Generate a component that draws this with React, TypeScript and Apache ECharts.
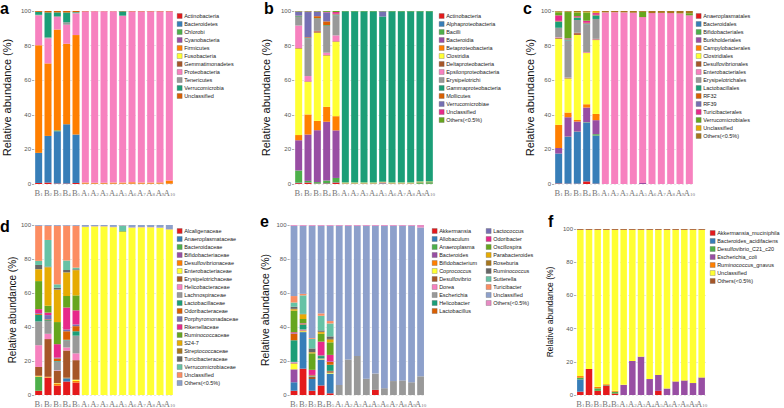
import React, { useEffect, useRef } from 'react';
import * as echarts from 'echarts';

const CATEGORIES = ['B1', 'B2', 'B3', 'B4', 'B5', 'A1', 'A2', 'A3', 'A4', 'A5', 'A6', 'A7', 'A8', 'A9', 'A10'];
const Y_NAME = 'Relative abundance (%)';
const PANEL_LETTERS = ['a', 'b', 'c', 'd', 'e', 'f'];

const PALETTE = ['#E41A1C', '#377EB8', '#4DAF4A', '#984EA3', '#FF7F00', '#FFFF33', '#A65628', '#F781BF', '#999999', '#1B9E77', '#D95F02', '#7570B3', '#E7298A', '#66A61E', '#E6AB02', '#A6761D', '#666666', '#66C2A5', '#FC8D62', '#8DA0CB', '#E78AC3'];

// Panel a: phylum
const PHYLUM_TAXA = ['Actinobacteria', 'Bacteroidetes', 'Chlorobi', 'Cyanobacteria', 'Firmicutes', 'Fusobacteria', 'Gemmatimonadetes', 'Proteobacteria', 'Tenericutes', 'Verrucomicrobia', 'Unclassified'];
const PHYLUM_VALUES = [
  [0.6, 0.8, 0.3, 0.3, 0.6, 0.1, 0.1, 0.1, 0.1, 0.1, 0.1, 0.1, 0.1, 0.1, 0.1],
  [17.4, 27.0, 30.2, 34.2, 28.0, 0.1, 0.1, 0.1, 0.1, 0.1, 0.1, 0.1, 0.1, 0.1, 0.1],
  [0, 0, 0.5, 0, 0, 0, 0, 0, 0, 0, 0, 0, 0, 0, 0],
  [0, 0, 0, 0, 0, 0, 0, 0, 0, 0, 0, 0, 0, 0, 0],
  [62.2, 41.9, 58.3, 46.5, 57.5, 0.6, 0.5, 0.5, 0.6, 0.6, 0.8, 0.6, 0.6, 0.7, 1.8],
  [0, 0, 0, 0, 0, 0, 0, 0, 0, 0, 0, 0, 0, 0, 0],
  [0, 0, 0, 0, 0, 0, 0, 0, 0, 0, 0, 0, 0, 0, 0],
  [17.3, 14.5, 7.2, 11.0, 12.5, 99.0, 99.2, 99.2, 99.1, 96.5, 98.8, 99.0, 99.0, 98.9, 97.8],
  [0.3, 0.5, 0.5, 1.5, 0.5, 0, 0, 0, 0, 0, 0, 0, 0, 0, 0],
  [1.7, 14.5, 2.2, 5.6, 0.3, 0, 0, 0, 0, 2.5, 0, 0, 0, 0, 0],
  [0.5, 0.8, 0.8, 0.9, 0.6, 0.2, 0.2, 0.2, 0.2, 0.2, 0.2, 0.2, 0.2, 0.2, 0.2],
];

// Panel b: class
const CLASS_TAXA = ['Actinobacteria', 'Alphaproteobacteria', 'Bacilli', 'Bacteroidia', 'Betaproteobacteria', 'Clostridia', 'Deltaproteobacteria', 'Epsilonproteobacteria', 'Erysipelotrichi', 'Gammaproteobacteria', 'Mollicutes', 'Verrucomicrobiae', 'Unclassified', 'Others(<0.5%)'];
const CLASS_VALUES = [
  [0.5, 0.8, 0.2, 0.3, 0.8, 0.1, 0.1, 0.1, 0.1, 0.1, 0.1, 0.1, 0.1, 0.1, 0.1],
  [0.3, 0.2, 0.1, 0.2, 0.2, 0, 0, 0, 0, 0, 0, 0, 0, 0, 0],
  [7.0, 0.8, 0.8, 1.5, 2.5, 0.2, 0.2, 0.2, 0.2, 0.2, 0.2, 0.2, 0.2, 0.8, 0.9],
  [17.5, 26.8, 30.0, 34.0, 27.5, 0.1, 0.1, 0.1, 0.1, 0.6, 0.1, 0.1, 0.1, 0.1, 0.1],
  [3.0, 11.6, 5.4, 8.6, 8.2, 0.1, 0.1, 0.1, 0.1, 0.1, 0.1, 0.1, 0.1, 0.1, 0.1],
  [50.0, 18.8, 51.0, 29.7, 43.0, 0.3, 0.3, 0.3, 0.3, 0.3, 0.3, 0.3, 0.3, 0.3, 0.3],
  [0.3, 0.3, 0.8, 0.3, 0.3, 0, 0, 0, 0, 0, 0, 0, 0, 0, 0],
  [13.0, 3.1, 0.2, 1.3, 3.4, 0, 0, 0, 0, 0, 0, 0, 0, 0, 0],
  [5.0, 21.8, 7.0, 15.5, 11.6, 0, 0, 0, 0, 0, 0, 0, 0, 0, 0],
  [0.4, 0.2, 0.3, 0.4, 0.3, 99.0, 99.0, 99.0, 99.0, 95.5, 99.0, 99.0, 99.0, 98.4, 98.3],
  [0.3, 0.4, 1.2, 2.2, 0.3, 0, 0, 0, 0, 0, 0, 0, 0, 0, 0],
  [2.2, 14.6, 2.5, 5.2, 0.3, 0, 0, 0, 0, 3.0, 0, 0, 0, 0, 0],
  [0.2, 0.3, 0.2, 0.3, 1.0, 0, 0, 0, 0, 0, 0, 0, 0, 0, 0],
  [0.3, 0.3, 0.3, 0.5, 0.6, 0.2, 0.2, 0.2, 0.2, 0.2, 0.2, 0.2, 0.2, 0.2, 0.2],
];

// Panel c: order
const ORDER_TAXA = ['Anaeroplasmatales', 'Bacteroidales', 'Bifidobacteriales', 'Burkholderiales', 'Campylobacterales', 'Clostridiales', 'Desulfovibrionales', 'Enterobacteriales', 'Erysipelotrichales', 'Lactobacillales', 'RF32', 'RF39', 'Turicibacterales', 'Verrucomicrobiales', 'Unclassified', 'Others(<0.5%)'];
const ORDER_VALUES = [
  [0.3, 0.2, 0.2, 1.5, 0.2, 0, 0, 0, 0, 0, 0, 0, 0, 0, 0],
  [17.3, 27.0, 29.9, 34.0, 27.8, 0, 0, 0, 0, 0, 0, 0, 0, 0, 0],
  [0, 0.2, 0.2, 0.2, 0.8, 0, 0, 0, 0, 0, 0, 0, 0, 0, 0],
  [3.2, 11.2, 5.8, 8.5, 8.1, 0, 0, 0, 0, 0.6, 0, 0, 0, 0, 0],
  [13.4, 2.7, 0.9, 1.9, 3.6, 0, 0, 0, 0, 0, 0, 0, 0, 0, 0],
  [49.8, 19.7, 49.2, 29.6, 42.7, 0, 0, 0, 0, 0, 0, 0, 0, 0, 0],
  [0.4, 0.3, 1.0, 0.3, 0.4, 0, 0, 0, 0, 0, 0, 0, 0, 0, 0],
  [0.4, 0.2, 0.2, 0.3, 0.3, 99.2, 99.3, 99.2, 99.0, 95.9, 98.8, 98.9, 98.8, 98.6, 97.5],
  [5.5, 21.5, 7.4, 16.0, 11.5, 0, 0, 0, 0, 0, 0, 0, 0, 0, 0],
  [3.5, 0.3, 1.2, 0.3, 2.0, 0, 0, 0, 0, 0, 0, 0, 0, 0, 0],
  [0.3, 0.3, 0.3, 0.3, 0.2, 0, 0, 0, 0, 0, 0, 0, 0, 0, 0],
  [0.2, 0.3, 0.2, 0.3, 0.2, 0, 0, 0, 0, 0, 0, 0, 0, 0, 0],
  [3.2, 0.3, 0.5, 1.2, 1.0, 0, 0, 0, 0, 0, 0, 0, 0, 0, 0],
  [1.8, 15.2, 2.2, 4.8, 0.2, 0, 0, 0, 0, 3.0, 0, 0, 0, 0, 1.2],
  [0.3, 0.2, 0.2, 0.3, 1.0, 0, 0, 0, 0, 0, 0, 0, 0, 0, 0],
  [0.4, 0.4, 0.6, 0.5, 0.0, 0.8, 0.7, 0.8, 1.0, 0.5, 1.2, 1.1, 1.2, 1.4, 1.3],
];

// Panel d: family
const FAMILY_TAXA = ['Alcaligenaceae', 'Anaeroplasmataceae', 'Bacteroidaceae', 'Bifidobacteriaceae', 'Desulfovibrionaceae', 'Enterobacteriaceae', 'Erysipelotrichaceae', 'Helicobacteraceae', 'Lachnospiraceae', 'Lactobacillaceae', 'Odoribacteraceae', 'Porphyromonadaceae', 'Rikenellaceae', 'Ruminococcaceae', 'S24-7', 'Streptococcaceae', 'Turicibacteraceae', 'Verrucomicrobiaceae', 'Unclassified', 'Others(<0.5%)'];
const FAMILY_VALUES = [
  [2.5, 10.2, 5.5, 8.0, 7.3, 0, 0, 0, 0, 0, 0, 0, 0, 0, 0],
  [0, 0, 0, 1.8, 0, 0, 0, 0, 0, 0, 0, 0, 0, 0, 0],
  [8.2, 0, 0, 0, 0, 0, 0, 0, 0, 0, 0, 0, 0, 0, 0],
  [0, 0, 0, 0, 0, 0, 0, 0, 0, 0, 0, 0, 0, 0, 0],
  [0.3, 0.3, 1.2, 0.2, 1.0, 0, 0, 0, 0, 0, 0, 0, 0, 0, 0],
  [0.3, 0.2, 0.3, 0.2, 0.7, 98.8, 99.1, 99.1, 98.7, 96.1, 98.4, 98.6, 98.6, 98.3, 97.3],
  [5.2, 22.2, 7.2, 16.0, 11.5, 0, 0, 0, 0, 0, 0, 0, 0, 0, 0],
  [12.8, 3.1, 0.3, 1.8, 4.0, 0, 0, 0, 0, 0, 0, 0, 0, 0, 0],
  [14.0, 7.5, 5.2, 4.2, 10.4, 0, 0, 0, 0, 0, 0, 0, 0, 0, 0],
  [3.8, 0.5, 0.3, 0.3, 2.6, 0, 0, 0, 0, 0, 0, 0, 0, 0, 0],
  [0.5, 0.5, 1.5, 5.0, 3.0, 0, 0, 0, 0, 0, 0, 0, 0, 0, 0],
  [0.5, 2.5, 0.5, 1.0, 1.0, 0, 0, 0, 0, 0, 0, 0, 0, 0, 0],
  [2.4, 1.5, 7.9, 13.0, 8.3, 0, 0, 0, 0, 0, 0, 0, 0, 0, 0],
  [16.5, 4.0, 13.0, 6.7, 8.8, 0, 0, 0, 0, 0.4, 0, 0, 0, 0, 0],
  [6.9, 22.6, 19.0, 13.8, 14.8, 0, 0, 0, 0, 0, 0, 0, 0, 0, 0],
  [0.2, 0.2, 0.2, 0.2, 0.2, 0, 0, 0, 0, 0, 0, 0, 0, 0, 0],
  [2.4, 0.3, 1.0, 1.3, 0.4, 0, 0, 0, 0, 0, 0, 0, 0, 0, 0],
  [2.4, 15.6, 2.0, 5.6, 0.9, 0, 0, 0, 0, 3.0, 0, 0, 0, 0, 0],
  [20.6, 8.3, 34.4, 20.4, 24.6, 0.2, 0.2, 0.2, 0.2, 0.2, 0.2, 0.2, 0.2, 0.2, 0.2],
  [0.5, 0.5, 0.5, 0.5, 0.5, 1.0, 0.7, 0.7, 1.1, 0.3, 1.4, 1.2, 1.2, 1.5, 2.5],
];

// Panel e: genus
const GENUS_TAXA = ['Akkermansia', 'Allobaculum', 'Anaeroplasma', 'Bacteroides', 'Bifidobacterium', 'Coprococcus', 'Desulfovibrio', 'Dorea', 'Escherichia', 'Helicobacter', 'Lactobacillus', 'Lactococcus', 'Odoribacter', 'Oscillospira', 'Parabacteroides', 'Roseburia', 'Ruminococcus', 'Sutterella', 'Turicibacter', 'Unclassified', 'Others(<0.5%)'];
const GENUS_VALUES = [
  [2.5, 15.5, 2.5, 5.6, 1.0, 0, 0, 0, 0, 3.0, 0, 0, 0, 0, 0],
  [5.0, 21.5, 6.9, 15.3, 11.6, 0, 0, 0, 0, 0, 0, 0, 0, 0, 0],
  [0, 0, 0, 0, 0, 0, 0, 0, 0, 0, 0, 0, 0, 0, 0],
  [7.6, 0, 0, 0, 0, 0, 0, 0, 0, 0, 0, 0, 0, 0, 0],
  [0, 0, 0, 0, 0, 0, 0, 0, 0, 0, 0, 0, 0, 0, 0],
  [3.3, 0.5, 0, 0.3, 0.5, 0, 0, 0, 0, 0, 0, 0, 0, 0, 0],
  [0.3, 0.5, 1.2, 0.2, 0.9, 0, 0, 0, 0, 0, 0, 0, 0, 0, 0],
  [0.5, 0.3, 0, 0, 0, 0, 0, 0, 0, 0, 0, 0, 0, 0, 0],
  [0.3, 0.3, 0.3, 0.2, 0.2, 5.9, 20.9, 23.0, 9.6, 9.6, 4.0, 8.2, 8.6, 7.5, 11.0],
  [12.7, 2.8, 0.2, 1.3, 3.6, 0, 0, 0, 0, 0, 0, 0, 0, 0, 0],
  [3.8, 0.3, 0.5, 0.3, 1.6, 0, 0, 0, 0, 0, 0, 0, 0, 0, 0],
  [0.3, 0.2, 0.2, 0.3, 0.3, 0, 0, 0, 0, 0, 0, 0, 0, 0, 0],
  [0.6, 0.3, 3.0, 7.9, 3.9, 0, 0, 0, 0, 0, 0, 0, 0, 0, 0],
  [12.7, 2.5, 9.7, 4.6, 7.4, 0, 0, 0, 0, 0, 0, 0, 0, 0, 0],
  [0.8, 2.8, 0.5, 1.0, 1.5, 0, 0, 0, 0, 0, 0, 0, 0, 0, 0],
  [0.3, 0, 0.3, 0.2, 0.5, 0, 0, 0, 0, 0, 0, 0, 0, 0, 0],
  [1.2, 0.2, 2.1, 0.8, 1.5, 0, 0, 0, 0, 0, 0, 0, 0, 0, 0],
  [2.5, 10.9, 5.6, 8.6, 7.6, 0, 0, 0, 0, 0, 0, 0, 0, 0, 0],
  [3.8, 0.9, 0.5, 1.4, 1.4, 0, 0, 0, 0, 0, 0, 0, 0, 0, 0],
  [41.3, 40.0, 66.0, 51.5, 56.0, 93.6, 78.6, 76.5, 89.9, 86.9, 95.5, 91.3, 90.9, 92.0, 87.5],
  [0.5, 0.5, 0.5, 0.5, 0.5, 0.5, 0.5, 0.5, 0.5, 0.5, 0.5, 0.5, 0.5, 0.5, 1.5],
];

// Panel f: species
const SPECIES_TAXA = ['Akkermansia_muciniphila', 'Bacteroides_acidifaciens', 'Desulfovibrio_C21_c20', 'Escherichia_coli', 'Ruminococcus_gnavus', 'Unclassified', 'Others(<0.5%)'];
const SPECIES_VALUES = [
  [2.0, 15.7, 2.5, 5.7, 0.9, 0, 0, 0, 0, 2.5, 0, 0, 0, 0, 0],
  [7.4, 0, 0, 0, 0, 0, 0, 0, 0, 0, 0, 0, 0, 0, 0],
  [1.0, 0, 1.5, 0.3, 1.1, 0, 0, 0, 0, 0, 0, 0, 0, 0, 0],
  [0, 0, 0, 0, 0, 6.1, 20.5, 23.1, 9.6, 9.6, 3.9, 8.2, 8.8, 7.2, 10.6],
  [1.0, 0, 0.9, 0.5, 0.5, 0, 0, 0, 0, 0, 0, 0, 0, 0, 0],
  [88.1, 83.8, 94.6, 93.0, 97.0, 93.4, 79.0, 76.4, 89.9, 87.4, 95.6, 91.3, 90.7, 92.3, 88.9],
  [0.5, 0.5, 0.5, 0.5, 0.5, 0.5, 0.5, 0.5, 0.5, 0.5, 0.5, 0.5, 0.5, 0.5, 0.5],
];

const PANELS = [
  { taxa: PHYLUM_TAXA, values: PHYLUM_VALUES, grid: { left: 34, top: 11, width: 140, height: 173 }, nameGap: 22, nameSize: 11, legends: [{ left: 177, top: 12, from: 0, to: 99 }], letter: { x: 0, y: 0 } },
  { taxa: CLASS_TAXA, values: CLASS_VALUES, grid: { left: 294, top: 11, width: 140, height: 173 }, nameGap: 23, nameSize: 11, legends: [{ left: 439, top: 12, from: 0, to: 99 }], letter: { x: 264, y: 0 } },
  { taxa: ORDER_TAXA, values: ORDER_VALUES, grid: { left: 554, top: 11, width: 140, height: 173 }, nameGap: 19, nameSize: 11, legends: [{ left: 696, top: 12, from: 0, to: 99 }], letter: { x: 523, y: 0 } },
  { taxa: FAMILY_TAXA, values: FAMILY_VALUES, grid: { left: 34, top: 225, width: 140, height: 174 }, nameGap: 15, nameSize: 10, legends: [{ left: 177, top: 227, from: 0, to: 99 }], letter: { x: 0, y: 218 } },
  { taxa: GENUS_TAXA, values: GENUS_VALUES, grid: { left: 289.5, top: 225, width: 135.6, height: 174 }, nameGap: 19, nameSize: 10.5, legends: [{ left: 432, top: 227, from: 0, to: 11 }, { left: 486, top: 227, from: 11, to: 99 }], letter: { x: 260, y: 213 } },
  { taxa: SPECIES_TAXA, values: SPECIES_VALUES, grid: { left: 576, top: 229, width: 130, height: 170 }, nameGap: 22, nameSize: 8.5, legends: [{ left: 710, top: 229, from: 0, to: 99 }], letter: { x: 548, y: 213 } },
];

const FONT = 'Liberation Sans, Arial, sans-serif';

function buildOption() {
  const grid: any[] = [];
  const xAxis: any[] = [];
  const yAxis: any[] = [];
  const series: any[] = [];
  const legend: any[] = [];
  const graphic: any[] = [];

  PANELS.forEach((p, pi) => {
    grid.push({ ...p.grid, containLabel: false });
    xAxis.push({
      type: 'category',
      gridIndex: pi,
      data: CATEGORIES,
      axisLine: { show: false },
      axisTick: { show: false },
      axisLabel: {
        interval: 0,
        margin: 3,
        formatter: (v: string) => `{l|${v[0]}}{s|${v.slice(1)}}`,
        rich: {
          l: { fontFamily: 'Liberation Serif, serif', fontSize: 8.5, lineHeight: 10, color: '#777', verticalAlign: 'bottom' },
          s: { fontFamily: 'Liberation Serif, serif', fontSize: 5, lineHeight: 6, color: '#777', verticalAlign: 'bottom' },
        },
      },
    });
    yAxis.push({
      type: 'value',
      gridIndex: pi,
      min: 0,
      max: 100,
      interval: 20,
      name: Y_NAME,
      nameLocation: 'middle',
      nameGap: p.nameGap,
      nameTextStyle: { fontFamily: FONT, fontSize: p.nameSize, color: '#111' },
      axisLine: { show: false },
      axisTick: { show: true, length: 2, lineStyle: { color: '#777', width: 0.6 } },
      axisLabel: { fontFamily: FONT, fontSize: 6, color: '#555', margin: 3 },
      splitLine: { show: true, lineStyle: { color: '#d8d8d8', width: 0.6, type: [2, 2] } },
    });
    p.taxa.forEach((name, ti) => {
      series.push({
        type: 'bar',
        name,
        xAxisIndex: pi,
        yAxisIndex: pi,
        stack: 'panel' + pi,
        barCategoryGap: '25%',
        itemStyle: { color: PALETTE[ti] },
        emphasis: { disabled: true },
        data: p.values[ti],
      });
    });
    p.legends.forEach((lg) => {
      legend.push({
        orient: 'vertical',
        left: lg.left,
        top: lg.top,
        padding: 0,
        itemGap: 0,
        itemWidth: 5,
        itemHeight: 5,
        icon: 'rect',
        selectedMode: false,
        textStyle: { fontFamily: FONT, fontSize: 5.5, lineHeight: 8, color: '#222', padding: [0, 0, 0, -3] },
        data: p.taxa.slice(lg.from, lg.to).map((name, k) => ({
          name,
          itemStyle: { color: PALETTE[lg.from + k], borderColor: '#555', borderWidth: 0.3 },
        })),
      });
    });
    graphic.push({
      type: 'text',
      left: p.letter.x,
      top: p.letter.y,
      style: { text: PANEL_LETTERS[pi], fontFamily: FONT, fontSize: 16, fontWeight: 'bold', fill: '#000' },
    });
  });

  return { animation: false, backgroundColor: '#fff', grid, xAxis, yAxis, series, legend, graphic };
}

export default function App() {
  const ref = useRef<HTMLDivElement>(null);
  useEffect(() => {
    if (!ref.current) return;
    const chart = echarts.init(ref.current, undefined, { renderer: 'svg' });
    chart.setOption(buildOption() as any);
    return () => chart.dispose();
  }, []);
  return <div ref={ref} style={{ position: 'absolute', left: 0, top: 0, width: 784, height: 408 }} />;
}
